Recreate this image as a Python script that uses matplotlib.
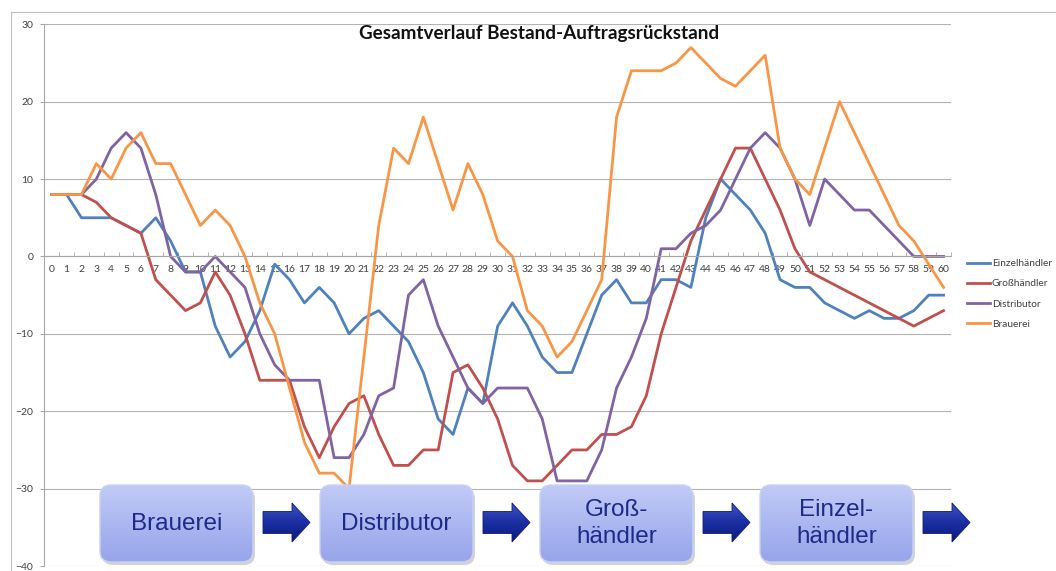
import numpy as np
import matplotlib
matplotlib.use('Agg')
from matplotlib import pyplot as plt
from matplotlib.patches import FancyBboxPatch, FancyArrow
from matplotlib.colors import LinearSegmentedColormap

# Runden 0..60
runden = list(range(61))

einzelhaendler = [8, 8, 5, 5, 5, 4, 3, 5, 2, -2, -2,
                  -9, -13, -11, -7, -1, -3, -6, -4, -6, -10,
                  -8, -7, -9, -11, -15, -21, -23, -17, -19, -9,
                  -6, -9, -13, -15, -15, -10, -5, -3, -6, -6,
                  -3, -3, -4, 5, 10, 8, 6, 3, -3, -4,
                  -4, -6, -7, -8, -7, -8, -8, -7, -5, -5]
grosshaendler = [8, 8, 8, 7, 5, 4, 3, -3, -5, -7, -6,
                 -2, -5, -10, -16, -16, -16, -22, -26, -22, -19,
                 -18, -23, -27, -27, -25, -25, -15, -14, -17, -21,
                 -27, -29, -29, -27, -25, -25, -23, -23, -22, -18,
                 -10, -4, 2, 6, 10, 14, 14, 10, 6, 1,
                 -2, -3, -4, -5, -6, -7, -8, -9, -8, -7]
distributor = [8, 8, 8, 10, 14, 16, 14, 8, 0, -2, -2,
               0, -2, -4, -10, -14, -16, -16, -16, -26, -26,
               -23, -18, -17, -5, -3, -9, -13, -17, -19, -17,
               -17, -17, -21, -29, -29, -29, -25, -17, -13, -8,
               1, 1, 3, 4, 6, 10, 14, 16, 14, 10,
               4, 10, 8, 6, 6, 4, 2, 0, 0, 0]
brauerei = [8, 8, 8, 12, 10, 14, 16, 12, 12, 8, 4,
            6, 4, 0, -6, -10, -17, -24, -28, -28, -30,
            -13, 4, 14, 12, 18, 12, 6, 12, 8, 2,
            0, -7, -9, -13, -11, -7, -3, 18, 24, 24,
            24, 25, 27, 25, 23, 22, 24, 26, 14, 10,
            8, 14, 20, 16, 12, 8, 4, 2, -1, -4]

serien = ['Einzelhändler', 'Großhändler', 'Distributor', 'Brauerei']
farben = ['#4F81BD', '#C0504D', '#8064A2', '#F79646']
stufen = ['Brauerei', 'Distributor', 'Groß-\nhändler', 'Einzel-\nhändler']

W, H = 1056, 571
fig = plt.figure(figsize=(W / 100, H / 100), dpi=100)
ax = fig.add_axes([44.3 / W, 5 / H, 906.7 / W, 541.7 / H])

for name, werte, c in zip(serien, [einzelhaendler, grosshaendler, distributor, brauerei], farben):
    ax.plot(runden, werte, color=c, lw=2.0, label=name, solid_joinstyle='round')

ax.set_xlim(-0.5, 60.5)
ax.set_ylim(-40, 30)
for s in ['top', 'right']:
    ax.spines[s].set_visible(False)
ax.spines['left'].set_color('#a6a6a6')
ax.spines['bottom'].set_color('#a6a6a6')
ax.spines['bottom'].set_position(('data', 0))
ax.spines['left'].set_linewidth(0.8)
ax.spines['bottom'].set_linewidth(0.8)

ax.set_yticks(range(-40, 31, 10))
ax.yaxis.grid(True, color='#b3b3b3', lw=0.8)
ax.set_axisbelow(True)
ax.set_xticks(runden)
ax.set_xticks(np.arange(-0.5, 61, 1), minor=True)
ax.tick_params(axis='x', which='major', length=0, pad=6, labelsize=7.5, labelcolor='#404040')
ax.tick_params(axis='x', which='minor', direction='in', length=3, color='#a6a6a6')
ax.tick_params(axis='y', length=3, direction='out', color='#a6a6a6', pad=5, labelsize=7.5, labelcolor='#404040')
for lab in ax.get_xticklabels() + ax.get_yticklabels():
    lab.set_family('Lato')

leg = ax.legend(loc='upper left', bbox_to_anchor=(967 / W, 1 - 259 / H), bbox_transform=fig.transFigure,
                frameon=False, handlelength=2.3, handletextpad=0.15, labelspacing=1.1,
                borderpad=0, borderaxespad=0, prop={'family': 'Lato', 'size': 7.3})
for t in leg.get_texts():
    t.set_color('#404040')

# overlay in pixel coordinates: frame, title, process boxes
ov = fig.add_axes([0, 0, 1, 1], zorder=10)
ov.set_xlim(0, W)
ov.set_ylim(H, 0)
ov.axis('off')

ov.plot([11, W], [12, 12], color='#bfbfbf', lw=0.8)
ov.plot([11, 11], [12, H], color='#bfbfbf', lw=0.8)
ov.text(539, 33, 'Gesamtverlauf Bestand-Auftragsrückstand', ha='center', va='center',
        fontsize=13.6, fontweight='bold', family='Lato', color='#111111')

box_cmap = LinearSegmentedColormap.from_list('box', ['#c2cbf6', '#abb7f0', '#97a5ea'])
arr_cmap = LinearSegmentedColormap.from_list('arr', ['#3b52c6', '#1b2fa2', '#0a197c'])
grad = np.linspace(0, 1, 256).reshape(-1, 1)

for i, txt in enumerate(stufen):
    x0, y0, bw, bh = 100 + 220 * i, 485, 153, 77
    shadow = FancyBboxPatch((x0 + 2, y0 + 3), bw, bh, boxstyle='round,pad=0,rounding_size=11',
                            fc='#7f7f7f', ec='none', alpha=0.35, zorder=5)
    ov.add_patch(shadow)
    box = FancyBboxPatch((x0, y0), bw, bh, boxstyle='round,pad=0,rounding_size=11',
                         fc='none', ec='#c9d1f5', lw=1.0, zorder=7)
    ov.add_patch(box)
    im = ov.imshow(grad, cmap=box_cmap, extent=(x0, x0 + bw, y0 + bh, y0), aspect='auto', zorder=6)
    im.set_clip_path(box)
    ov.text(x0 + bw / 2, y0 + bh / 2, txt, ha='center', va='center', fontsize=17.5,
            family='Liberation Sans', color='#1c2a8a', linespacing=1.25, zorder=8)

    ax0 = x0 + 163
    arrow = FancyArrow(ax0, 522.5, 47, 0, width=22, head_width=39, head_length=18,
                       length_includes_head=True, fc='none', ec='#0c1b78', lw=0.6, zorder=7)
    ov.add_patch(arrow)
    ima = ov.imshow(grad, cmap=arr_cmap, extent=(ax0, ax0 + 47, 542, 503), aspect='auto', zorder=6)
    ima.set_clip_path(arrow)

ov.set_xlim(0, W)
ov.set_ylim(H, 0)

fig.savefig('out.png', dpi=100)
